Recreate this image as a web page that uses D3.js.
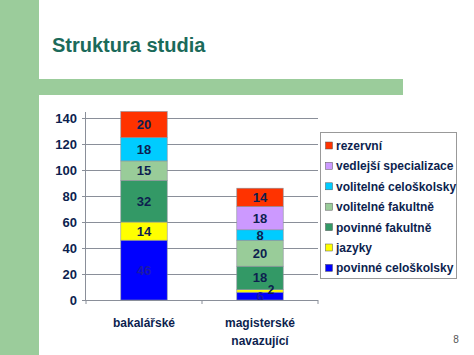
<!DOCTYPE html>
<html><head><meta charset="utf-8">
<script src="https://cdn.jsdelivr.net/npm/d3@7"></script>
<style>body{margin:0;background:#fff}svg{display:block}</style>
</head><body>
<script>
const categories = ["bakalářské", "magisterské\nnavazující"];
const seriesNames = ["povinné celoškolsky","jazyky","povinné fakultně","volitelné fakultně","volitelné celoškolsky","vedlejší specializace","rezervní"];
const seriesColors = ["#0000ff","#ffff00","#339966","#99cc99","#00ccff","#cc99ff","#ff3300"];
const povinneCeloskolsky = [46, 6];
const jazyky = [14, 2];
const povinneFakultne = [32, 18];
const volitelneFakultne = [15, 20];
const volitelneCeloskolsky = [18, 8];
const vedlejsiSpecializace = [0, 18];
const rezervni = [20, 14];
const yTicks = [0,20,40,60,80,100,120,140];
const seriesValues = [povinneCeloskolsky, jazyky, povinneFakultne, volitelneFakultne, volitelneCeloskolsky, vedlejsiSpecializace, rezervni];

const W=474,H=355;
const svg=d3.select("body").append("svg").attr("width",W).attr("height",H);
const font="'Liberation Sans', Arial, sans-serif";
const navy="#0d1f4f";

// decoration
svg.append("rect").attr("x",0).attr("y",0).attr("width",39).attr("height",H).attr("fill","#9bcc9b");
svg.append("rect").attr("x",39).attr("y",79).attr("width",364).attr("height",16).attr("fill","#9bcc9b");
svg.append("text").attr("x",52).attr("y",52).attr("font-family",font).attr("font-weight","bold")
  .attr("font-size",20).attr("fill","#1b6a5a").text("Struktura studia");
svg.append("text").attr("x",456).attr("y",343).attr("font-family",font).attr("font-size",10)
  .attr("fill","#555").attr("text-anchor","middle").text("8");

// scales
const plotL=86, plotR=318, y0=300, y140=118;
const x=d3.scaleBand().domain(categories).range([plotL,plotR]).paddingInner(0.6).paddingOuter(0.3);
const y=d3.scaleLinear().domain([0,140]).range([y0,y140]);
const plotTop=y(144.6);

// gridlines
svg.append("g").selectAll("line").data(yTicks.slice(1)).join("line")
  .attr("x1",plotL).attr("x2",plotR).attr("y1",d=>y(d)).attr("y2",d=>y(d))
  .attr("stroke","#8a8f99").attr("stroke-width",1).attr("shape-rendering","crispEdges");

// stacked data
const rows=categories.map((c,i)=>{const o={cat:c};seriesNames.forEach((s,j)=>o[s]=seriesValues[j][i]);return o;});
const stack=d3.stack().keys(seriesNames)(rows);

const g=svg.append("g");
stack.forEach((layer,j)=>{
  g.selectAll(null).data(layer.filter(d=>d[1]-d[0]>0)).join("rect")
    .attr("x",d=>x(d.data.cat)).attr("width",x.bandwidth())
    .attr("y",d=>y(d[1])).attr("height",d=>y(d[0])-y(d[1]))
    .attr("fill",seriesColors[j]).attr("stroke","#8a8f99").attr("stroke-width",0.6);
});
// labels
stack.forEach((layer,j)=>{
  g.selectAll(null).data(layer.filter(d=>d[1]-d[0]>0)).join("text")
    .attr("x",d=>{const v=d[1]-d[0];return x(d.data.cat)+x.bandwidth()/2+(v<4?11:0);})
    .attr("y",d=>(y(d[0])+y(d[1]))/2+(d[1]-d[0]<4?3.5:4.5))
    .attr("text-anchor","middle").attr("font-family",font).attr("font-weight","bold")
    .attr("font-size",d=>d[1]-d[0]<4?12:13)
    .attr("fill",j===0?"#1a1aa8":navy).text(d=>d[1]-d[0]);
});

// axes
const ya=svg.append("g").attr("transform",`translate(${plotL},0)`)
  .call(d3.axisLeft(y).tickValues(yTicks).tickSize(4).tickPadding(5));
ya.select(".domain").attr("d",`M-0.5,${plotTop}V${y0}`).attr("stroke","#8a8f99");
ya.selectAll(".tick line").attr("stroke","#8a8f99");
ya.selectAll("text").attr("font-family",font).attr("font-weight","bold").attr("font-size",13).attr("fill",navy);

svg.append("line").attr("x1",plotL).attr("x2",plotR).attr("y1",y0+0.5).attr("y2",y0+0.5).attr("stroke","#8a8f99");
const bounds=[plotL, plotL+(plotR-plotL)/2, plotR];
svg.selectAll(null).data(bounds).join("line").attr("x1",d=>d).attr("x2",d=>d).attr("y1",y0).attr("y2",y0+4).attr("stroke","#8a8f99");

categories.forEach(c=>{
  const lines=c.split("\n");
  const t=svg.append("text").attr("text-anchor","middle").attr("font-family",font).attr("font-weight","bold")
    .attr("font-size",12).attr("fill",navy);
  lines.forEach((l,i)=>t.append("tspan").attr("x",x(c)+x.bandwidth()/2).attr("y",327+i*18).text(l));
});

// legend
const lg=svg.append("g");
lg.append("rect").attr("x",320.5).attr("y",132.5).attr("width",136).attr("height",146).attr("fill","#fff").attr("stroke","#999");
const legOrder=seriesNames.map((s,i)=>i).reverse();
legOrder.forEach((si,k)=>{
  const cy=145.5+k*20.4;
  lg.append("rect").attr("x",325.5).attr("y",cy-3.5).attr("width",7).attr("height",7)
    .attr("fill",seriesColors[si]).attr("stroke","#555").attr("stroke-width",0.5);
  lg.append("text").attr("x",336).attr("y",cy+4.5).attr("font-family",font).attr("font-weight","bold")
    .attr("font-size",12).attr("fill",navy).text(seriesNames[si]);
});
</script>
</body></html>
